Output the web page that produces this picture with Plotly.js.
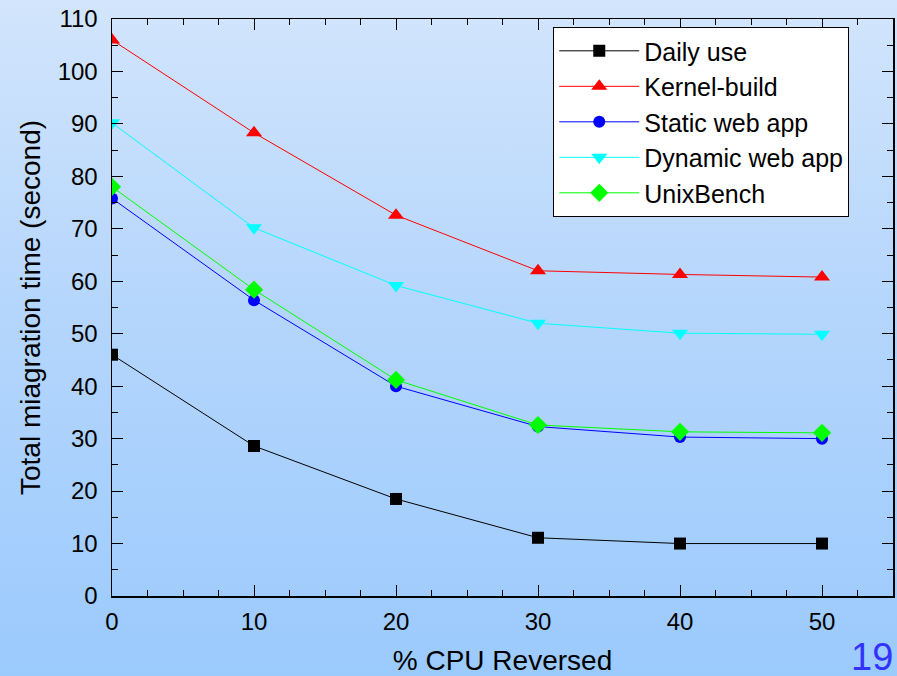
<!DOCTYPE html>
<html>
<head>
<meta charset="utf-8">
<script src="https://cdn.plot.ly/plotly-3.0.1.min.js"></script>
<style>
html,body{margin:0;padding:0;width:897px;height:676px;overflow:hidden;
background:linear-gradient(to bottom,#d2e5fc 0%,#b5d6fc 45%,#9bcafd 100%);}
#chart{width:897px;height:676px;}
</style>
</head>
<body>
<div id="chart"></div>
<script>
const cpuReserved = [0, 10, 20, 30, 40, 50];
const dailyUse = [46, 28.6, 18.5, 11.1, 10, 10];
const kernelBuild = [106, 88.3, 72.6, 62, 61.3, 60.8];
const staticWebApp = [75.8, 56.4, 40, 32.3, 30.3, 30];
const dynamicWebApp = [90.2, 70.2, 59.2, 52, 50.1, 49.9];
const unixBench = [78, 58.4, 41.2, 32.6, 31.3, 31.1];
const seriesNames = ["Daily use", "Kernel-build", "Static web app", "Dynamic web app", "UnixBench"];

const seriesData = [dailyUse, kernelBuild, staticWebApp, dynamicWebApp, unixBench];
const colors = ["#000000", "#ff0000", "#0000ff", "#00ffff", "#00ff00"];
const symbols = ["square", "triangle-up", "circle", "triangle-down", "diamond"];
const sizes = [12, 14, 12, 14, 14];

const traces = seriesData.map((ys, i) => ({
  x: cpuReserved, y: ys, name: seriesNames[i], type: "scatter", mode: "lines+markers",
  line: {color: colors[i], width: 1},
  marker: {symbol: symbols[i], size: sizes[i], color: colors[i]},
  cliponaxis: true
}));

const fam = "Liberation Sans, Arial, sans-serif";

const layout = {
  width: 897, height: 676,
  margin: {l: 112, r: 4, t: 19, b: 80},
  paper_bgcolor: "rgba(0,0,0,0)",
  plot_bgcolor: "rgba(0,0,0,0)",
  font: {family: fam, color: "#000"},
  showlegend: true,
  xaxis: {
    range: [0, 55], dtick: 10, tick0: 0,
    ticks: "inside", ticklen: 11, tickwidth: 1, tickcolor: "#000",
    showline: true, linecolor: "#000", linewidth: 1.5, mirror: "ticks",
    showgrid: false, zeroline: false,
    tickfont: {size: 24, family: fam},
    ticklabelstandoff: 4,
    minor: {dtick: 2.5, ticks: "inside", ticklen: 6, tickcolor: "#000", showgrid: false},
    title: {text: "% CPU Reversed", font: {size: 28, family: fam}, standoff: 20}
  },
  yaxis: {
    range: [0, 110], dtick: 10, tick0: 0,
    ticks: "inside", ticklen: 11, tickwidth: 1, tickcolor: "#000",
    showline: true, linecolor: "#000", linewidth: 1.5, mirror: "ticks",
    showgrid: false, zeroline: false,
    tickfont: {size: 24, family: fam},
    ticklabelstandoff: 8,
    minor: {dtick: 5, ticks: "inside", ticklen: 6, tickcolor: "#000", showgrid: false},
    title: {text: "Total miagration time (second)", font: {size: 28, family: fam}, standoff: 9}
  },
  legend: {
    x: 0.565, y: 0.986, xanchor: "left", yanchor: "top",
    bgcolor: "#ffffff", bordercolor: "#000", borderwidth: 1,
    font: {size: 25, family: fam},
    itemwidth: 80
  },
  annotations: [{
    text: "19", xref: "paper", yref: "paper", x: 1.0025, y: -0.106,
    xanchor: "right", yanchor: "middle", showarrow: false,
    font: {size: 38, color: "#3333ff", family: fam}
  }]
};

Plotly.newPlot("chart", traces, layout, {displayModeBar: false, staticPlot: true});
</script>
</body>
</html>
